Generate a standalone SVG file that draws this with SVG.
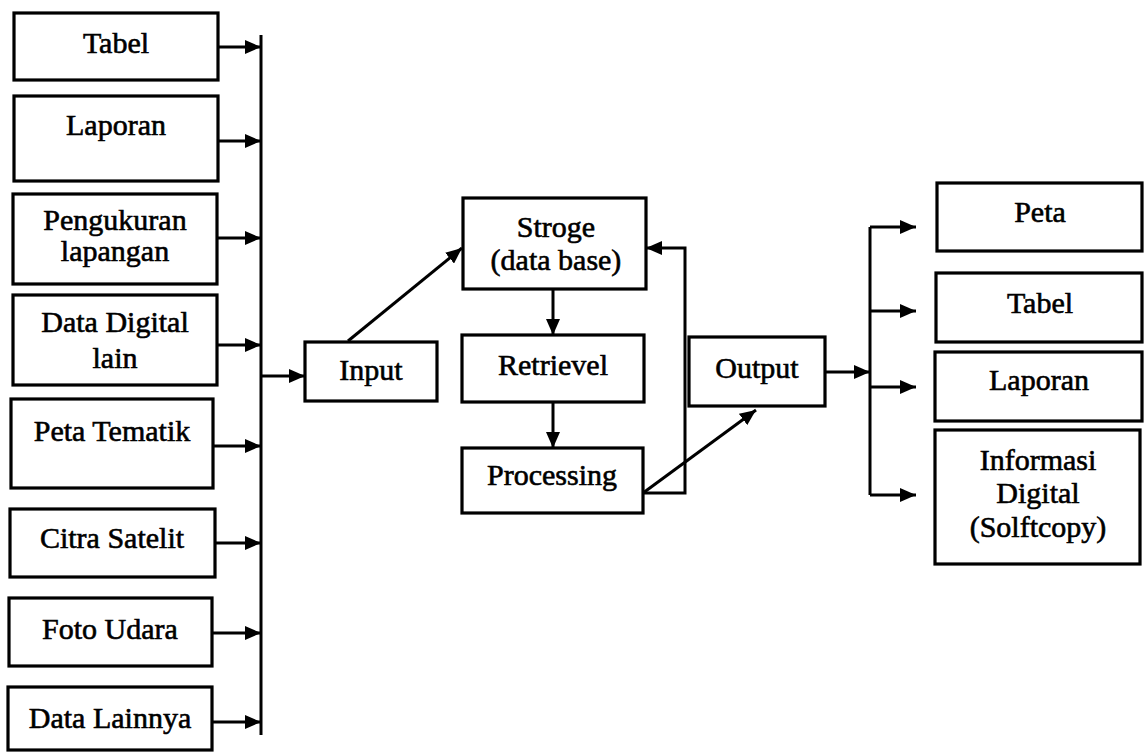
<svg xmlns="http://www.w3.org/2000/svg" width="1145" height="752" viewBox="0 0 1145 752">
<style>
.box{fill:#fff;stroke:#000;stroke-width:3.2}
.t{font-family:"Liberation Serif","Times New Roman",serif;font-size:30px;fill:#000;stroke:#000;stroke-width:0.6;text-anchor:middle}
.ln{fill:none;stroke:#000;stroke-width:3}
</style>
<defs>
<marker id="ah" markerUnits="userSpaceOnUse" markerWidth="16" markerHeight="14" refX="16" refY="7" orient="auto">
<path d="M0,0 L16,7 L0,14 z" fill="#000"/>
</marker>
</defs>
<rect width="1145" height="752" fill="#fff"/>
<g id="n-tabel-in"><rect class="box" x="14" y="13" width="204" height="67"/><text class="t" x="116" y="53">Tabel</text></g>
<g id="n-laporan-in"><rect class="box" x="14" y="96" width="204" height="85"/><text class="t" x="116" y="135">Laporan</text></g>
<g id="n-pengukuran"><rect class="box" x="13" y="194" width="204" height="90"/><text class="t" x="115" y="230">Pengukuran</text><text class="t" x="115" y="261">lapangan</text></g>
<g id="n-datadigital"><rect class="box" x="13" y="295" width="204" height="90"/><text class="t" x="115" y="332">Data Digital</text><text class="t" x="115" y="368">lain</text></g>
<g id="n-petatematik"><rect class="box" x="11" y="399" width="202" height="89"/><text class="t" x="112" y="441">Peta Tematik</text></g>
<g id="n-citra"><rect class="box" x="10" y="509" width="205" height="68"/><text class="t" x="112" y="548">Citra Satelit</text></g>
<g id="n-foto"><rect class="box" x="9" y="598" width="203" height="68"/><text class="t" x="110" y="639">Foto Udara</text></g>
<g id="n-datalainnya"><rect class="box" x="8" y="687" width="204" height="63"/><text class="t" x="110" y="728">Data Lainnya</text></g>
<g id="n-input"><rect class="box" x="305" y="342" width="132" height="59"/><text class="t" x="371" y="380">Input</text></g>
<g id="n-stroge"><rect class="box" x="463" y="198" width="183" height="91"/><text class="t" x="556" y="237">Stroge</text><text class="t" x="556" y="270">(data base)</text></g>
<g id="n-retrievel"><rect class="box" x="462" y="335" width="182" height="67"/><text class="t" x="553" y="375">Retrievel</text></g>
<g id="n-processing"><rect class="box" x="462" y="448" width="181" height="65"/><text class="t" x="552" y="485">Processing</text></g>
<g id="n-output"><rect class="box" x="689" y="337" width="136" height="69"/><text class="t" x="757" y="378">Output</text></g>
<g id="n-peta-out"><rect class="box" x="937" y="183" width="205" height="68"/><text class="t" x="1040" y="222">Peta</text></g>
<g id="n-tabel-out"><rect class="box" x="936" y="273" width="206" height="69"/><text class="t" x="1040" y="313">Tabel</text></g>
<g id="n-laporan-out"><rect class="box" x="935" y="352" width="207" height="69"/><text class="t" x="1039" y="390">Laporan</text></g>
<g id="n-informasi"><rect class="box" x="935" y="430" width="205" height="134"/><text class="t" x="1038" y="470">Informasi</text><text class="t" x="1038" y="503">Digital</text><text class="t" x="1038" y="537">(Solftcopy)</text></g>
<g id="connectors">
<line class="ln" x1="261" y1="35" x2="261" y2="735"/>
<line class="ln" x1="218" y1="47" x2="261" y2="47" marker-end="url(#ah)"/>
<line class="ln" x1="218" y1="141" x2="261" y2="141" marker-end="url(#ah)"/>
<line class="ln" x1="217" y1="238" x2="261" y2="238" marker-end="url(#ah)"/>
<line class="ln" x1="217" y1="345" x2="261" y2="345" marker-end="url(#ah)"/>
<line class="ln" x1="213" y1="446" x2="261" y2="446" marker-end="url(#ah)"/>
<line class="ln" x1="215" y1="543" x2="261" y2="543" marker-end="url(#ah)"/>
<line class="ln" x1="212" y1="633" x2="261" y2="633" marker-end="url(#ah)"/>
<line class="ln" x1="212" y1="722" x2="261" y2="722" marker-end="url(#ah)"/>
<line class="ln" x1="261" y1="376" x2="305" y2="376" marker-end="url(#ah)"/>
<line class="ln" x1="348" y1="341" x2="462" y2="248" marker-end="url(#ah)"/>
<line class="ln" x1="553" y1="289" x2="553" y2="335" marker-end="url(#ah)"/>
<line class="ln" x1="553" y1="402" x2="553" y2="448" marker-end="url(#ah)"/>
<polyline class="ln" points="643,493 685,493 685,248 646,248" marker-end="url(#ah)"/>
<line class="ln" x1="643" y1="493" x2="756" y2="410" marker-end="url(#ah)"/>
<line class="ln" x1="825" y1="372" x2="870" y2="372" marker-end="url(#ah)"/>
<line class="ln" x1="870" y1="227" x2="870" y2="495"/>
<line class="ln" x1="870" y1="227" x2="916" y2="227" marker-end="url(#ah)"/>
<line class="ln" x1="870" y1="311" x2="916" y2="311" marker-end="url(#ah)"/>
<line class="ln" x1="870" y1="387" x2="916" y2="387" marker-end="url(#ah)"/>
<line class="ln" x1="870" y1="495" x2="916" y2="495" marker-end="url(#ah)"/>
</g>
</svg>
